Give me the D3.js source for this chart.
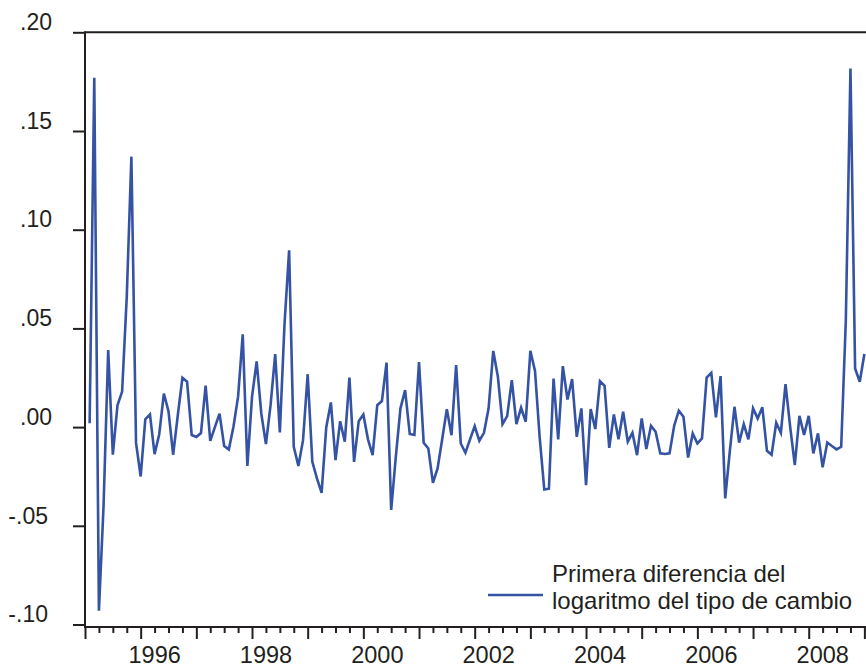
<!DOCTYPE html>
<html><head><meta charset="utf-8">
<script src="https://cdn.jsdelivr.net/npm/d3@7"></script>
<style>body{margin:0;background:#fff}svg{display:block;background:#fff}text{font-family:"Liberation Sans",Arial,sans-serif;fill:#231f20}</style>
</head><body><svg id="c" width="866" height="667"></svg>
<script>
// Monthly series, starting February 1995
const startYear = 1995, startMonth = 2;
const values = [
 0.002, 0.177, -0.093, -0.040, 0.039, -0.014, 0.011, 0.018, 0.066, 0.137, -0.008,
 -0.025, 0.004, 0.0064, -0.0137, -0.0036, 0.017, 0.008, -0.014, 0.006, 0.025, 0.023, -0.004,
 -0.005, -0.003, 0.021, -0.007, 0.000, 0.0068, -0.0096, -0.0113, 0.0002, 0.0154, 0.047, -0.0197,
 0.0153, 0.0333, 0.0069, -0.0086, 0.0111, 0.037, -0.0027, 0.052, 0.0896, -0.010, -0.0197, -0.0066,
 0.0268, -0.0176, -0.026, -0.0333, -0.0002, 0.0125, -0.0167, 0.003, -0.0074, 0.0251, -0.0176, 0.003,
 0.0064, -0.0062, -0.0142, 0.0111, 0.0132, 0.0327, -0.042, -0.015, 0.0095, 0.0187, -0.0035, -0.004,
 0.033, -0.0079, -0.0108, -0.0282, -0.0209, -0.006, 0.0091, -0.0041, 0.0314, -0.0083, -0.013, -0.0062,
 0.0005, -0.0069, -0.0029, 0.0095, 0.0386, 0.0255, 0.0015, 0.0056, 0.0238, 0.0015, 0.0098, 0.0027,
 0.0386, 0.0285, -0.005, -0.0316, -0.0312, 0.0246, -0.0062, 0.0309, 0.014, 0.0243, -0.0049, 0.0095,
 -0.0294, 0.0091, -0.001, 0.0233, 0.0209, -0.0105, 0.0064, -0.0062, 0.0078, -0.0074, -0.0029, -0.0142,
 0.0044, -0.0111, 0.0007, -0.0024, -0.0133, -0.0136, -0.0133, 0.0007, 0.0083, 0.0052, -0.0154, -0.0032,
 -0.0083, -0.0057, 0.0251, 0.0275, 0.0049, 0.0258, -0.0361, -0.012, 0.0103, -0.0079, 0.0015, -0.0062,
 0.0095, 0.0044, 0.0101, -0.012, -0.014, 0.0022, -0.0029, 0.0218, 0.0002, -0.0192, 0.0057, -0.004,
 0.0057, -0.0133, -0.0032, -0.0204, -0.0078, -0.0096, -0.0113, -0.010, 0.054, 0.1816, 0.0297, 0.023,
 0.037
];
const yTicks = [0.20, 0.15, 0.10, 0.05, 0.00, -0.05, -0.10];
const yTickLabels = [".20", ".15", ".10", ".05", ".00", "-.05", "-.10"];
const xLabelYears = [1996, 1998, 2000, 2002, 2004, 2006, 2008];
const legendLines = ["Primera diferencia del", "logaritmo del tipo de cambio"];

const ink = "#231f20", blue = "#3553a5";
const svg = d3.select("#c");
const x = d3.scaleLinear().domain([1995, 2009.25]).range([85.0, 878.3]);
const y = d3.scaleLinear().domain([-0.10, 0.20]).range([624.5, 32.3]);
const x0 = x(1995), yTop = y(0.20), yBot = y(-0.10) + 2.5;

const data = values.map((v, i) => ({ t: startYear + (startMonth - 1 + i) / 12, v }));

// line
svg.append("path").datum(data)
  .attr("fill", "none").attr("stroke", blue).attr("stroke-width", 2.6)
  .attr("d", d3.line().x(d => x(d.t)).y(d => y(d.v)));

// frame
svg.append("line").attr("x1", x0).attr("x2", 870).attr("y1", yTop).attr("y2", yTop).attr("stroke", ink).attr("stroke-width", 2);
svg.append("line").attr("x1", x0).attr("x2", x0).attr("y1", yTop - 1).attr("y2", yBot + 1).attr("stroke", ink).attr("stroke-width", 2);
svg.append("line").attr("x1", x0).attr("x2", 870).attr("y1", yBot).attr("y2", yBot).attr("stroke", ink).attr("stroke-width", 2);

// y axis ticks
const ya = svg.append("g").attr("transform", `translate(${x0},0)`)
  .call(d3.axisLeft(y).tickValues(yTicks).tickSize(12).tickFormat(""));
ya.select(".domain").remove();
ya.selectAll(".tick line").attr("stroke", ink).attr("stroke-width", 2);
svg.append("g").selectAll("text").data(yTicks).join("text")
  .attr("x", (d) => d < 0 ? 48 : 52).attr("y", d => y(d) - 2.3)
  .attr("text-anchor", "end").attr("font-size", 23)
  .text((d, i) => yTickLabels[i]);

// x axis ticks
const years = d3.range(1995, 2010, 1);
const quarters = d3.range(1995, 2009.3, 0.25).filter(q => Math.abs(q - Math.round(q)) > 0.01);
const xa = svg.append("g").attr("transform", `translate(0,${yBot})`)
  .call(d3.axisBottom(x).tickValues(years).tickSize(12).tickFormat(""));
xa.select(".domain").remove();
xa.selectAll(".tick line").attr("stroke", ink).attr("stroke-width", 2);
const xm = svg.append("g").attr("transform", `translate(0,${yBot})`)
  .call(d3.axisBottom(x).tickValues(quarters).tickSize(6).tickFormat(""));
xm.select(".domain").remove();
xm.selectAll(".tick line").attr("stroke", ink).attr("stroke-width", 2);
svg.append("g").selectAll("text").data(xLabelYears).join("text")
  .attr("x", d => x(d) + 14).attr("y", 663)
  .attr("text-anchor", "middle").attr("font-size", 23.5)
  .text(d => d);

// legend
svg.append("line").attr("x1", 488).attr("x2", 543).attr("y1", 595).attr("y2", 595)
  .attr("stroke", blue).attr("stroke-width", 2.6);
svg.append("g").selectAll("text").data(legendLines).join("text")
  .attr("x", 552).attr("y", (d, i) => 582 + i * 26.6)
  .attr("font-size", 24).text(d => d);
</script></body></html>
